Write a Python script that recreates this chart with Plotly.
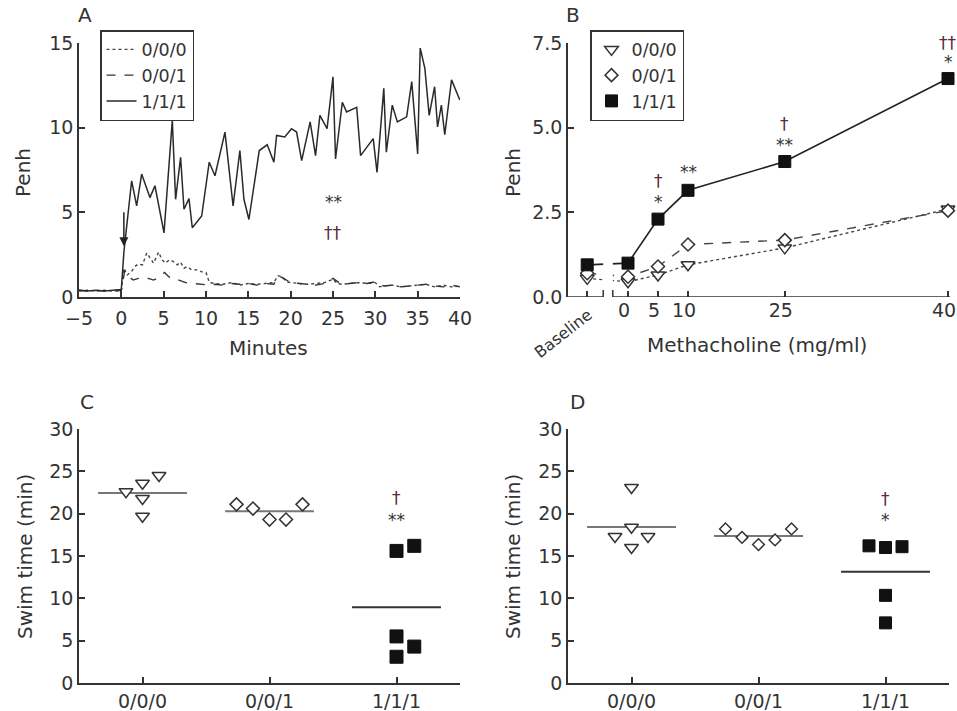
import numpy as np
import plotly.graph_objects as go

FONT = "DejaVu Sans"
INK = "#333333"
DAGGER = "#5a2a40"
W, H = 957, 711

groups = ["0/0/0", "0/0/1", "1/1/1"]

# ---- Panel A: Penh time course (minutes) ----
t_000 = [-5, -4, -3, -2, -1, -0.5, 0,
         0.3, 0.7, 1.2, 1.6, 2.0, 2.5, 3.0, 3.4, 3.8, 4.4,
         4.8, 5.2, 5.7, 6.1, 6.6, 7.0, 7.4, 7.8, 8.3, 8.9,
         9.4, 10.0, 10.4, 11, 12, 13, 14, 15, 16, 17,
         18, 18.5, 19, 19.5, 20, 21, 22, 23, 24, 25,
         25.5, 26, 27, 28, 29, 30, 30.5, 31, 32, 33,
         34, 35, 36, 37, 38, 39, 40]
penh_000 = [0.35, 0.4, 0.35, 0.4, 0.35, 0.4, 0.4,
            1.7, 1.3, 1.5, 1.8, 1.95, 1.9, 2.6, 2.3, 2.0, 2.65,
            2.2, 2.0, 2.2, 2.1, 1.9, 2.05, 1.7, 1.8, 1.6, 1.6,
            1.5, 1.45, 0.85, 0.8, 0.75, 0.85, 0.7, 0.8, 0.75, 0.8,
            0.85, 1.25, 1.2, 0.9, 0.85, 0.8, 0.75, 0.8, 0.85, 1.05,
            0.8, 0.75, 0.8, 0.85, 0.8, 0.85, 0.6, 0.65, 0.7, 0.6,
            0.65, 0.7, 0.75, 0.6, 0.7, 0.6, 0.65]

t_001 = [-5, -4, -3, -2, -1, -0.5, 0,
         0.4, 0.9, 1.4, 2.0, 2.6, 3.2, 3.8, 4.4, 5.1, 5.6,
         6.1, 6.8, 7.6, 8.5, 9.5, 10.5, 11, 12, 13, 14,
         15, 16, 17, 18, 18.5, 19, 20, 21, 22, 23,
         24, 25, 26, 27, 28, 29, 30, 31, 32, 33,
         34, 35, 36, 37, 38, 39, 40]
penh_001 = [0.4, 0.35, 0.4, 0.35, 0.4, 0.35, 0.4,
            1.55, 1.2, 1.0, 1.1, 1.05, 1.1, 1.0, 1.15, 1.45, 1.2,
            1.05, 1.0, 0.85, 0.8, 0.75, 0.7, 0.75, 0.7, 0.8, 0.75,
            0.8, 0.7, 0.8, 0.75, 1.2, 1.15, 0.85, 0.8, 0.75, 0.7,
            0.8, 1.1, 0.75, 0.8, 0.85, 0.8, 0.9, 0.65, 0.7, 0.6,
            0.65, 0.7, 0.75, 0.65, 0.6, 0.7, 0.6]

t_111 = [-5, -4, -3, -2, -1, 0,
         0.31, 1.22, 1.81, 2.40, 3.38, 3.97, 5.04, 6.02, 6.41, 7.0,
         7.4, 7.99, 8.38, 9.49, 10.38, 11.06, 12.24, 13.2, 14.0, 14.48,
         15.07, 16.29, 17.23, 18.02, 18.34, 19.3, 20.1, 20.7, 21.3, 22.3,
         22.94, 23.45, 24.3, 25.0, 25.3, 26.1, 26.6, 27.8, 28.26, 29.75,
         30.2, 31.0, 31.3, 32.0, 32.6, 33.7, 34.3, 35.0, 35.3, 35.85,
         36.36, 37.0, 37.35, 37.8, 38.2, 39.0, 39.98]
penh_111 = [0.4, 0.35, 0.4, 0.35, 0.4, 0.45,
            2.7, 6.86, 5.38, 7.26, 5.87, 6.57, 3.79, 10.43, 5.77, 8.25,
            5.18, 5.81, 4.09, 4.78, 7.96, 7.16, 9.74, 5.38, 8.65, 5.77,
            4.58, 8.65, 8.99, 7.96, 9.54, 9.45, 9.94, 9.74, 8.05, 10.34,
            8.35, 10.73, 9.94, 13.0, 8.15, 11.5, 10.93, 11.2, 8.35, 9.35,
            7.36, 12.32, 8.55, 11.33, 10.34, 10.64, 12.72, 8.45, 14.7, 13.5,
            10.73, 12.42, 10.04, 11.33, 9.58, 12.82, 11.63]

# ---- Panel B: methacholine dose response ----
dose_labels = ["Baseline", "0", "5", "10", "25", "40"]
mch_000 = [0.55, 0.45, 0.65, 0.95, 1.45, 2.6]
mch_001 = [0.7, 0.6, 0.9, 1.55, 1.68, 2.55]
mch_111 = [0.95, 1.0, 2.3, 3.15, 4.0, 6.45]

# ---- Panels C and D: swim time (min) per mouse ----
swimC_000 = [22.6, 23.6, 21.8, 24.5, 19.7]
swimC_001 = [21.1, 20.6, 19.3, 19.3, 21.1]
swimC_111 = [15.6, 16.2, 5.5, 4.3, 3.1]
swimD_000 = [23.1, 18.4, 17.3, 17.3, 16.0]
swimD_001 = [18.2, 17.2, 16.35, 16.9, 18.2]
swimD_111 = [16.2, 16.0, 16.1, 10.35, 7.1]

# layout helpers: dose axis positions and horizontal spread of dots
dose_pos = [-5.1, 0, 3.75, 7.5, 19.6, 40]
gap = (-3.1, -1.9)
spread_000C = [-0.13, 0, 0, 0.13, 0]
spread_001 = [-0.26, -0.13, 0, 0.13, 0.26]
spread_111C = [0, 0.14, 0, 0.14, 0]
spread_000D = [0, 0, -0.13, 0.13, 0]
spread_111D = [-0.13, 0, 0.13, 0, 0]


def px_x(p):
    return p / W


def px_y(p):
    return 1 - p / H


fig = go.Figure()

# Panel A traces
fig.add_trace(go.Scatter(x=t_000, y=penh_000, mode="lines", name="0/0/0",
                         line=dict(color="#444", width=1.4, dash="dot"),
                         xaxis="x", yaxis="y", legend="legend"))
fig.add_trace(go.Scatter(x=t_001, y=penh_001, mode="lines", name="0/0/1",
                         line=dict(color="#333", width=1.4, dash="dash"),
                         xaxis="x", yaxis="y", legend="legend"))
fig.add_trace(go.Scatter(x=t_111, y=penh_111, mode="lines", name="1/1/1",
                         line=dict(color="#2a2a2a", width=1.5),
                         xaxis="x", yaxis="y", legend="legend"))

# Panel B traces
tri = dict(symbol="triangle-down", size=12, color="white", line=dict(color="#333", width=1.5))
dia = dict(symbol="diamond", size=10, color="white", line=dict(color="#333", width=1.5))
sqr = dict(symbol="square", size=12, color="#111", line=dict(color="#111", width=1))

fig.add_trace(go.Scatter(x=dose_pos, y=mch_000, mode="lines+markers", showlegend=False,
                         line=dict(color="#444", width=1.4, dash="dot"), marker=tri,
                         xaxis="x2", yaxis="y2", cliponaxis=False))
fig.add_trace(go.Scatter(x=dose_pos, y=mch_001, mode="lines+markers", showlegend=False,
                         line=dict(color="#444", width=1.4, dash="dash"), marker=dia,
                         xaxis="x2", yaxis="y2", cliponaxis=False))
fig.add_trace(go.Scatter(x=dose_pos, y=mch_111, mode="lines+markers", showlegend=False,
                         line=dict(color="#222", width=1.6), marker=sqr,
                         xaxis="x2", yaxis="y2", cliponaxis=False))
for name, mk in zip(groups, [tri, dia, sqr]):
    fig.add_trace(go.Scatter(x=[None], y=[None], mode="markers", name=name,
                             marker=mk, xaxis="x2", yaxis="y2", legend="legend2"))

# Panels C and D: dots plus group mean lines
def swim_panel(xa, ya, sets, spreads, sizes):
    marks = [dict(symbol="triangle-down", size=sizes[0], color="white", line=dict(color="#333", width=1.5)),
             dict(symbol="diamond", size=sizes[1], color="white", line=dict(color="#333", width=1.5)),
             dict(symbol="square", size=sizes[2], color="#111", line=dict(color="#111", width=1))]
    mean_cols = ["#777", "#777", "#333"]
    for i, (vals, spr, mk) in enumerate(zip(sets, spreads, marks)):
        m = float(np.mean(vals))
        fig.add_trace(go.Scatter(x=[i - 0.35, i + 0.35], y=[m, m], mode="lines", showlegend=False,
                                 line=dict(color=mean_cols[i], width=2), xaxis=xa, yaxis=ya))
        fig.add_trace(go.Scatter(x=[i + s for s in spr], y=vals, mode="markers", showlegend=False,
                                 marker=mk, xaxis=xa, yaxis=ya, cliponaxis=False))


swim_panel("x3", "y3", [swimC_000, swimC_001, swimC_111],
           [spread_000C, spread_001, spread_111C], [12, 10, 13])
swim_panel("x4", "y4", [swimD_000, swimD_001, swimD_111],
           [spread_000D, spread_001, spread_111D], [12, 9, 12])

TICK = 19
LEG = 17.5
axis_common = dict(showgrid=False, zeroline=False, showline=True, linecolor=INK, linewidth=1.5,
                   ticks="inside", ticklen=6, tickwidth=1.5, tickcolor=INK, automargin=False,
                   tickfont=dict(family=FONT, size=TICK, color=INK))

dom_top = [px_y(297), px_y(43)]
dom_bot = [px_y(683), px_y(429)]

fig.update_layout(
    width=W, height=H, margin=dict(l=0, r=0, t=0, b=0, autoexpand=False),
    paper_bgcolor="white", plot_bgcolor="white",
    font=dict(family=FONT, size=TICK, color=INK),
    xaxis=dict(axis_common, domain=[px_x(79), px_x(460)], range=[-5, 40], dtick=5, anchor="y",
               ticklabelstandoff=3),
    yaxis=dict(axis_common, domain=dom_top, range=[0, 15], dtick=5, anchor="x"),
    xaxis2=dict(axis_common, domain=[px_x(568), px_x(950)], range=[-7.5, 40.25], anchor="y2",
                showline=False, tickvals=dose_pos, ticktext=[""] + dose_labels[1:],
                ticklabeloverflow="allow", ticklabelshift=-4),
    yaxis2=dict(axis_common, domain=dom_top, range=[0, 7.5], tickvals=[0, 2.5, 5, 7.5],
                tickformat=".1f", anchor="x2"),
    xaxis3=dict(axis_common, domain=[px_x(79), px_x(460)], range=[-0.5, 2.5],
                tickvals=[0, 1, 2], ticktext=groups, anchor="y3"),
    yaxis3=dict(axis_common, domain=dom_bot, range=[0, 30], dtick=5, anchor="x3"),
    xaxis4=dict(axis_common, domain=[px_x(568), px_x(949)], range=[-0.5, 2.5],
                tickvals=[0, 1, 2], ticktext=groups, anchor="y4"),
    yaxis4=dict(axis_common, domain=dom_bot, range=[0, 30], dtick=5, anchor="x4"),
    legend=dict(x=px_x(100), y=px_y(30), xanchor="left", yanchor="top",
                bgcolor="white", bordercolor=INK, borderwidth=1.5, itemwidth=30,
                font=dict(family=FONT, size=LEG, color=INK), tracegroupgap=0),
    legend2=dict(x=px_x(590), y=px_y(30), xanchor="left", yanchor="top",
                 bgcolor="white", bordercolor=INK, borderwidth=1.5, itemwidth=30,
                 font=dict(family=FONT, size=LEG, color=INK), tracegroupgap=0),
)

# broken dose axis in panel B
shapes = [
    dict(type="rect", xref="x2", yref="y2", x0=gap[0], x1=gap[1], y0=0.03, y1=2.0,
         fillcolor="white", line=dict(width=0), layer="above"),
    dict(type="line", xref="x2", yref="y2", x0=-7.5, x1=gap[0], y0=0, y1=0,
         line=dict(color=INK, width=1.5), layer="above"),
    dict(type="line", xref="x2", yref="y2", x0=gap[1], x1=40.25, y0=0, y1=0,
         line=dict(color=INK, width=1.5), layer="above"),
]
for gx in gap:
    shapes.append(dict(type="line", xref="x2", yref="y2", xsizemode="scaled", ysizemode="pixel",
                       yanchor=0, x0=gx, x1=gx, y0=-7, y1=7,
                       line=dict(color=INK, width=1.5), layer="above"))
fig.update_layout(shapes=shapes)

ann = []
def txt(x, y, s, size=TICK, color=INK, angle=0, xref="paper", yref="paper"):
    ann.append(dict(x=x, y=y, xref=xref, yref=yref, text=s, showarrow=False, textangle=angle,
                    xanchor="center", yanchor="middle",
                    font=dict(family=FONT, size=size, color=color)))

# panel letters
txt(px_x(85), px_y(15), "A", size=20)
txt(px_x(573), px_y(15), "B", size=20)
txt(px_x(87), px_y(402), "C", size=20)
txt(px_x(577), px_y(402), "D", size=20)
# axis titles
txt(px_x(23), px_y(173), "Penh", angle=-90, size=20)
txt(px_x(268), px_y(348), "Minutes", size=20)
txt(px_x(513), px_y(173), "Penh", angle=-90, size=20)
txt(px_x(757), px_y(345), "Methacholine (mg/ml)", size=20)
txt(px_x(25), px_y(557), "Swim time (min)", angle=-90, size=20)
txt(px_x(513), px_y(557), "Swim time (min)", angle=-90, size=20)
txt(px_x(563), px_y(333), dose_labels[0], angle=-38, size=16)

# significance marks
txt(25, 5.6, "**", size=17, xref="x", yref="y")
txt(25, 3.8, "††", size=17, color=DAGGER, xref="x", yref="y")
b_marks = [(2, 2.8, "*", INK), (2, 3.42, "†", DAGGER), (3, 3.7, "**", INK),
           (4, 4.48, "**", INK), (4, 5.12, "†", DAGGER), (5, 6.94, "*", INK), (5, 7.5, "††", DAGGER)]
for i, y, s, c in b_marks:
    txt(dose_pos[i], y, s, size=17, color=c, xref="x2", yref="y2")
txt(2, 21.9, "†", size=17, color=DAGGER, xref="x3", yref="y3")
txt(2, 19.3, "**", size=17, xref="x3", yref="y3")
txt(2, 21.7, "†", size=17, color=DAGGER, xref="x4", yref="y4")
txt(2, 19.2, "*", size=17, xref="x4", yref="y4")

# stimulus arrow at time zero
ann.append(dict(x=0.3, y=3.0, ax=0.3, ay=5.1, xref="x", yref="y", axref="x", ayref="y",
                text="", showarrow=True, arrowhead=2, arrowsize=1.2, arrowwidth=1.5, arrowcolor="#222"))
fig.update_layout(annotations=ann)

fig.write_html("out.html")
